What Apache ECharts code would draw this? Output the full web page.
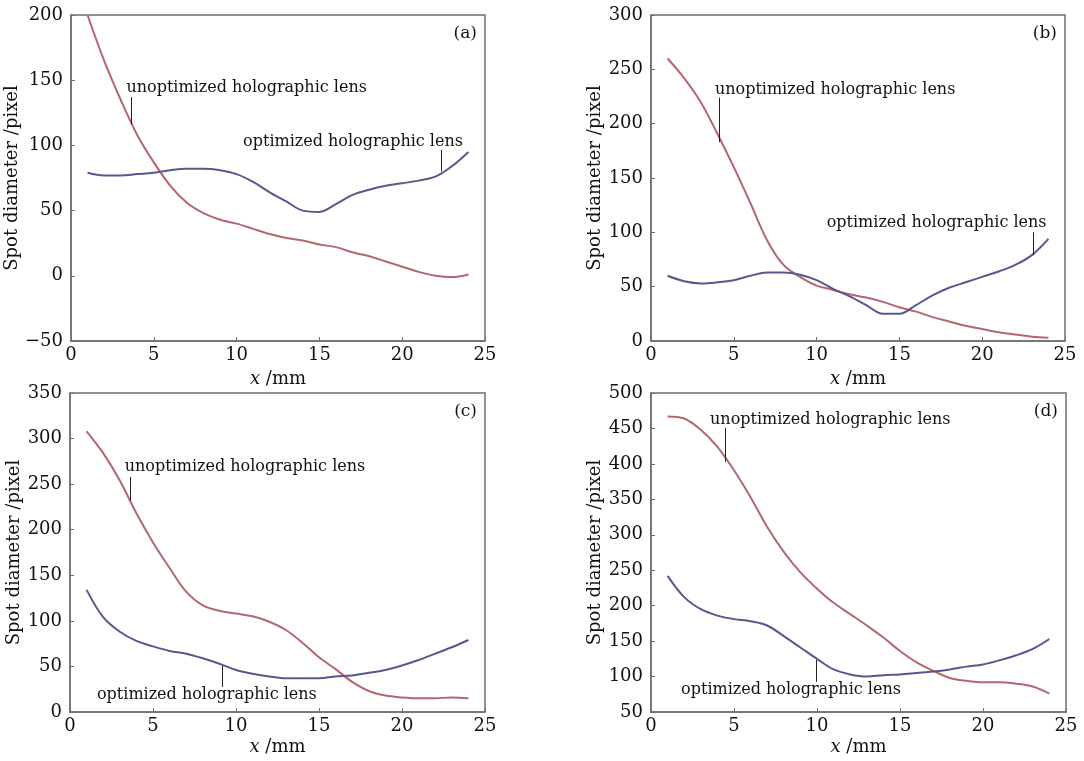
<!DOCTYPE html>
<html>
<head>
<meta charset="utf-8">
<script src="https://cdn.jsdelivr.net/npm/echarts@6/dist/echarts.min.js"></script>
<style>html,body{margin:0;padding:0;background:#fff;}#c{width:1084px;height:761px;}</style>
</head>
<body>
<div id="c"></div>
<script>
const xs = [1,2,3,4,5,6,7,8,9,10,11,12,13,14,15,16,17,18,19,20,21,22,23,24];
const xTicks = [0,5,10,15,20,25];
const panelLabels = ['(a)','(b)','(c)','(d)'];
const unoptA = [200,165,135,108,87,69,56,48,43,40,36,32,29,27,24,22,18,15,11,7,3,0,-1,1];
const optA   = [79,77,77,78,79,81,82,82,81,78,72,64,57,50,49,55,62,66,69,71,73,76,84,95];
const unoptB = [260,242,220,191,160,127,93,70,59,51,47,43,40,36,31,27,22,18,14,11,8,6,4,3];
const optB   = [60,55,53,54,56,60,63,63,61,56,48,41,33,25,25,33,42,49,54,59,64,70,79,94];
const unoptC = [308,284,254,218,186,158,132,117,111,108,105,99,90,76,60,47,33,23,18,16,15,15,16,15];
const optC   = [134,104,88,78,72,67,64,59,53,46,42,39,37,37,37,39,40,43,46,51,57,64,71,79];
const unoptD = [467,464,448,424,391,353,311,276,247,224,204,188,172,155,136,120,108,98,94,92,92,90,86,76];
const optD   = [242,212,195,186,181,178,172,157,141,125,110,103,100,102,103,105,107,110,114,117,123,130,139,153];
const yRanges = [[-50,200],[0,300],[0,350],[50,500]];
// leader lines: [x, yOnCurve, yEnd]
const leadersUnopt = [[3.65,116,137],[4.1,183,224],[3.6,232,258],[4.46,403,451]];
const leadersOpt   = [[22.34,80,96.5],[23.1,79,100],[9.15,50.5,27.5],[9.94,123.5,92.5]];
const textUnopt = 'unoptimized holographic lens';
const textOpt = 'optimized holographic lens';

const FONT = 'DejaVu Serif';
const RED = '#b5666f';
const BLUE = '#58588e';
const FRAME = '#6f6f6f';

const grids = [
  {left:71, top:15, width:414, height:326},
  {left:651, top:15, width:414, height:326},
  {left:70, top:393, width:415, height:319},
  {left:651, top:393, width:415, height:319}
];
const xNameGaps = [29, 29, 26, 26];
const unopts = [unoptA, unoptB, unoptC, unoptD];
const opts = [optA, optB, optC, optD];

const chart = echarts.init(document.getElementById('c'));
const option = {
  animation:false,
  backgroundColor:'#fff',
  grid: grids.map(g => Object.assign({show:true, borderColor:FRAME, borderWidth:1.5, backgroundColor:'transparent'}, g)),
  xAxis: grids.map((g,i) => ({
    type:'value', gridIndex:i, min:xTicks[0], max:xTicks[xTicks.length-1], interval:5,
    name:'{i|x} /mm', nameLocation:'middle', nameGap:xNameGaps[i],
    nameTextStyle:{fontFamily:FONT, fontSize:18, color:'#111', rich:{i:{fontFamily:FONT, fontStyle:'italic', fontSize:18, color:'#111'}}},
    axisLine:{show:true, onZero:false, lineStyle:{color:FRAME, width:1.5}},
    axisTick:{show:true, inside:true, length:4, lineStyle:{color:FRAME}},
    axisLabel:{fontFamily:FONT, fontSize:18, color:'#111', margin:5},
    splitLine:{show:false}
  })),
  yAxis: grids.map((g,i) => ({
    type:'value', gridIndex:i, min:yRanges[i][0], max:yRanges[i][1], interval:50,
    name:'Spot diameter /pixel', nameLocation:'middle', nameGap:47,
    nameTextStyle:{fontFamily:FONT, fontSize:18, color:'#111'},
    axisLine:{show:true, onZero:false, lineStyle:{color:FRAME, width:1.5}},
    axisTick:{show:true, inside:true, length:4, lineStyle:{color:FRAME}},
    axisLabel:{fontFamily:FONT, fontSize:18, color:'#111', margin:8,
      formatter: v => v < 0 ? '\u2212' + Math.abs(v) : String(v)},
    splitLine:{show:false}
  })),
  series: []
};
for (let i=0;i<4;i++){
  const lu = leadersUnopt[i], lo = leadersOpt[i];
  option.series.push({
    type:'line', xAxisIndex:i, yAxisIndex:i, name:textUnopt,
    data: xs.map((x,k)=>[x, unopts[i][k]]), smooth:0.35, showSymbol:false,
    lineStyle:{color:RED, width:2}, clip:true,
    markLine:{silent:true, symbol:'none', label:{show:false}, lineStyle:{color:'#222', width:1, type:'solid'},
      data:[[{coord:[lu[0],lu[1]]},{coord:[lu[0],lu[2]]}]]}
  });
  option.series.push({
    type:'line', xAxisIndex:i, yAxisIndex:i, name:textOpt,
    data: xs.map((x,k)=>[x, opts[i][k]]), smooth:0.35, showSymbol:false,
    lineStyle:{color:BLUE, width:2}, clip:true,
    markLine:{silent:true, symbol:'none', label:{show:false}, lineStyle:{color:'#222', width:1, type:'solid'},
      data:[[{coord:[lo[0],lo[1]]},{coord:[lo[0],lo[2]]}]]}
  });
}
chart.setOption(option);

// text placement relative to leader end (pixel offsets)
const unoptTextPos = [{dx:-5,dy:-9,align:'left'},{dx:-4,dy:-8,align:'left'},{dx:-5,dy:-10,align:'left'},{dx:-15,dy:-8,align:'left'}];
const optTextPos = [{dx:22,dy:-8,align:'right'},{dx:13,dy:-9,align:'right'},{dx:-15,dy:8,align:'center'},{dx:-25,dy:8,align:'center'}];
const graphics = [];
for (let i=0;i<4;i++){
  const lu = leadersUnopt[i], lo = leadersOpt[i];
  const pu = chart.convertToPixel({gridIndex:i}, [lu[0], lu[2]]);
  const po = chart.convertToPixel({gridIndex:i}, [lo[0], lo[2]]);
  graphics.push({type:'text', x:pu[0]+unoptTextPos[i].dx, y:pu[1]+unoptTextPos[i].dy,
    style:{text:textUnopt, fontFamily:FONT, fontSize:16, fill:'#111', align:unoptTextPos[i].align, verticalAlign:'middle'}});
  graphics.push({type:'text', x:po[0]+optTextPos[i].dx, y:po[1]+optTextPos[i].dy,
    style:{text:textOpt, fontFamily:FONT, fontSize:16, fill:'#111', align:optTextPos[i].align, verticalAlign:'middle'}});
  const g = grids[i];
  graphics.push({type:'text', x:g.left+g.width-8, y:g.top+19,
    style:{text:panelLabels[i], fontFamily:FONT, fontSize:17, fill:'#111', align:'right', verticalAlign:'middle'}});
}
chart.setOption({graphic: graphics});
</script>
</body>
</html>
